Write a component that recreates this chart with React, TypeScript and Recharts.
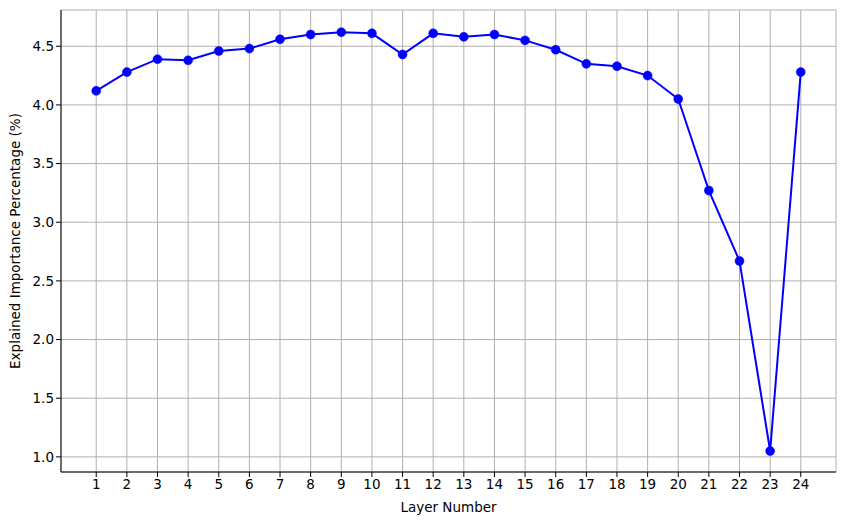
import React from 'react';
import { CartesianGrid, Line, LineChart, XAxis, YAxis } from 'recharts';

const layers = [1, 2, 3, 4, 5, 6, 7, 8, 9, 10, 11, 12, 13, 14, 15, 16, 17, 18, 19, 20, 21, 22, 23, 24];
const importance = [
  4.12, 4.28, 4.39, 4.38, 4.46, 4.48, 4.56, 4.6, 4.62, 4.61, 4.43, 4.61,
  4.58, 4.6, 4.55, 4.47, 4.35, 4.33, 4.25, 4.05, 3.27, 2.67, 1.05, 4.28,
];
const yTicks = [1.0, 1.5, 2.0, 2.5, 3.0, 3.5, 4.0, 4.5];

const data = layers.map((layer, i) => ({ layer, value: importance[i] }));

const font = 'DejaVu Sans, sans-serif';
const tickStyle = { fill: '#000', fontSize: 13.5, fontFamily: font };
const xDomain = [-0.15, 25.15];
const yDomain = [0.871, 4.809];

const App: React.FC = () => {
  return (
    <div style={{ position: 'absolute', left: 0, top: 0, width: 846, height: 525, background: '#fff' }}>
      <LineChart width={846} height={525} data={data} margin={{ top: 10, right: 10, left: 0, bottom: 0 }}>
        <CartesianGrid stroke="#b0b0b0" strokeWidth={1} />
        <XAxis
          dataKey="layer"
          type="number"
          domain={xDomain}
          ticks={layers}
          interval={0}
          height={53}
          tick={tickStyle}
          tickSize={5}
          tickLine={{ stroke: '#000' }}
          axisLine={{ stroke: '#000' }}
          allowDataOverflow
          label={{ value: 'Layer Number', position: 'insideBottom', offset: 13, style: { fill: '#000', fontSize: 13.5, fontFamily: font } }}
        />
        <XAxis
          xAxisId="top"
          orientation="top"
          type="number"
          domain={xDomain}
          height={0}
          tick={false}
          tickLine={false}
          axisLine={{ stroke: '#000' }}
          allowDataOverflow
        />
        <YAxis
          type="number"
          domain={yDomain}
          ticks={yTicks}
          interval={0}
          width={61}
          tick={tickStyle}
          tickSize={5}
          tickLine={{ stroke: '#000' }}
          axisLine={{ stroke: '#000' }}
          tickFormatter={(v: number) => v.toFixed(1)}
          allowDataOverflow
          label={{
            value: 'Explained Importance Percentage (%)',
            angle: -90,
            position: 'insideLeft',
            offset: 15,
            style: { textAnchor: 'middle', fill: '#000', fontSize: 13.5, fontFamily: font },
          }}
        />
        <YAxis
          yAxisId="right"
          orientation="right"
          type="number"
          domain={yDomain}
          width={0}
          tick={false}
          tickLine={false}
          axisLine={{ stroke: '#000' }}
          allowDataOverflow
        />
        <Line
          dataKey="value"
          stroke="#0000ff"
          strokeWidth={2}
          dot={{ r: 4.5, fill: '#0000ff', stroke: '#0000ff', strokeWidth: 0.5 }}
          activeDot={false}
          isAnimationActive={false}
        />
      </LineChart>
    </div>
  );
};

export default App;
